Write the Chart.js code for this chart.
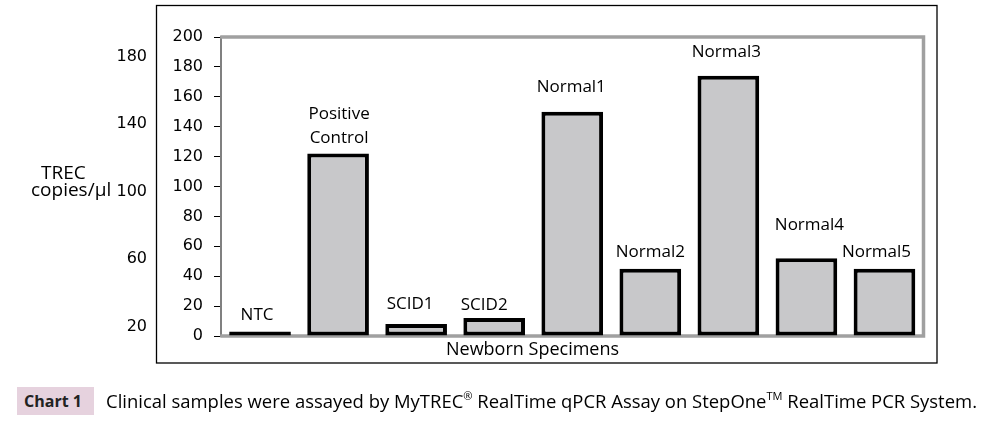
<!DOCTYPE html>
<html><head><meta charset="utf-8">
<script src="https://cdn.jsdelivr.net/npm/chart.js@4.4.1/dist/chart.umd.min.js"></script>
<style>
html,body{margin:0;padding:0;background:#fff;}
#wrap{position:relative;width:998px;height:427px;overflow:hidden;background:#fff;}
canvas{position:absolute;left:0;top:0;}
.t{position:absolute;font-family:"Open Sans",sans-serif;color:#000;white-space:nowrap;line-height:1;}
#chartNo{position:absolute;left:17px;top:387px;width:77px;height:28px;background:#e6d2de;}
sup{font-size:0.6em;line-height:0;vertical-align:0.7em;}
</style></head><body>
<div id="wrap">
<canvas id="c" width="998" height="427" style="width:998px;height:427px"></canvas>
<div class="t" style="left:41px;top:163px;font-size:19px">TREC</div>
<div class="t" style="left:31px;top:180px;font-size:19px">copies/µl</div>
<div class="t" style="left:446px;top:339px;font-size:18px">Newborn Specimens</div>
<div id="chartNo"></div>
<div class="t" style="left:24px;top:393px;font-size:16px;font-weight:bold;color:#222">Chart 1</div>
<div class="t" id="cap" style="left:106px;top:392px;font-size:19px;transform-origin:0 0">Clinical samples were assayed by MyTREC<sup>®</sup> RealTime qPCR Assay on StepOne<sup>TM</sup> RealTime PCR System.</div>
</div>
<script>
// ---- data ----
const categories = [["NTC"], ["Positive", "Control"], ["SCID1"], ["SCID2"], ["Normal1"], ["Normal2"], ["Normal3"], ["Normal4"], ["Normal5"]];
const trecValues = [3, 122, 8, 12, 150, 45, 174, 52, 45];
const sideTickValues = [20, 60, 100, 140, 180];

// ---- plugins ----
const framePlugin = {
  id: 'frame',
  beforeDraw(chart) {
    const ctx = chart.ctx;
    ctx.save();
    ctx.strokeStyle = '#000';
    ctx.lineWidth = 1.3;
    ctx.strokeRect(156.5, 5.5, 780.5, 357.5);
    ctx.restore();
  },
  beforeDatasetsDraw(chart) {
    const ctx = chart.ctx, a = chart.chartArea;
    ctx.save();
    ctx.strokeStyle = '#a0a0a0';
    ctx.lineWidth = 3.5;
    ctx.lineCap = 'square';
    ctx.beginPath();
    ctx.moveTo(a.left + 1, a.top);
    ctx.lineTo(a.right, a.top);
    ctx.lineTo(a.right, a.bottom);
    ctx.lineTo(a.left + 1, a.bottom);
    ctx.stroke();
    ctx.restore();
  }
};
const barLabelPlugin = {
  id: 'barLabels',
  afterDatasetsDraw(chart, args, opts) {
    const ctx = chart.ctx;
    const meta = chart.getDatasetMeta(0);
    ctx.save();
    ctx.font = '17px "Open Sans"';
    ctx.fillStyle = '#000';
    ctx.textAlign = 'center';
    ctx.textBaseline = 'alphabetic';
    meta.data.forEach((bar, i) => {
      const lines = chart.data.labels[i];
      let y = bar.y - opts.gaps[i];
      for (let k = lines.length - 1; k >= 0; k--) {
        ctx.fillText(lines[k], bar.x + opts.shifts[i], y);
        y -= opts.lineHeight;
      }
    });
    ctx.restore();
  }
};

new Chart(document.getElementById('c'), {
  type: 'bar',
  data: {
    labels: categories,
    datasets: [{
      data: trecValues,
      backgroundColor: '#c8c8ca',
      borderColor: '#000',
      borderWidth: 4,
      borderSkipped: false,
      barPercentage: 0.79,
      categoryPercentage: 1
    }]
  },
  options: {
    responsive: false,
    animation: false,
    layout: { padding: { left: 0, top: 37, right: 74.5, bottom: 91 } },
    plugins: {
      legend: { display: false },
      tooltip: { enabled: false },
      barLabels: {
        gaps: [12, 11, 15, 8, 20, 12, 19, 28, 12],
        shifts: [-3, 1, -6, -10, -1, 0, -2, 3, -8],
        lineHeight: 24
      }
    },
    scales: {
      x: { display: false },
      y: {
        position: 'left', weight: 0, min: 0, max: 200,
        ticks: { stepSize: 20, font: { family: 'DejaVu Sans', size: 16 }, color: '#000', padding: 11 },
        grid: { drawOnChartArea: false, drawTicks: true, tickLength: 7, color: '#000', lineWidth: 1 },
        border: { color: '#808080', width: 2 },
        afterFit(s) { s.width = 65; }
      },
      y2: {
        position: 'left', weight: 1, min: 14.5, max: 191.7,
        afterBuildTicks(s) { s.ticks = sideTickValues.map(v => ({ value: v })); },
        ticks: { font: { family: 'DejaVu Sans', size: 16 }, color: '#000', padding: 9 },
        grid: { display: false, drawTicks: false },
        border: { display: false },
        afterFit(s) { s.width = 156; }
      }
    }
  },
  plugins: [framePlugin, barLabelPlugin]
});

// fit caption width to reference
const cap = document.getElementById('cap');
const w = cap.getBoundingClientRect().width;
if (w > 0) cap.style.transform = 'scaleX(' + (871 / w) + ')';
</script>
</body></html>
